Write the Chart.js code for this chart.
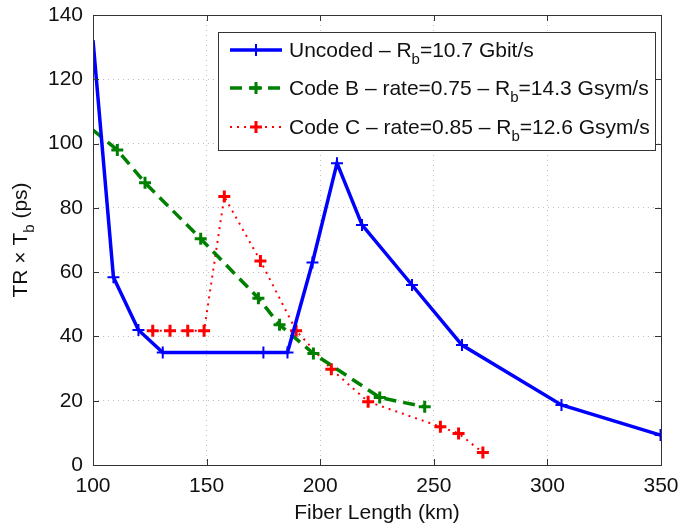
<!DOCTYPE html>
<html>
<head>
<meta charset="utf-8">
<script src="https://cdn.jsdelivr.net/npm/chart.js@4.4.0/dist/chart.umd.min.js"></script>
<style>
  html, body { margin: 0; padding: 0; background: #fff; }
  #wrap { width: 679px; height: 527px; position: relative; }
</style>
</head>
<body>
<div id="wrap"><canvas id="trChart"></canvas></div>
<script>
// fiber length (km) and TR x Tb (ps)
const uncodedX = [100, 109, 120, 130.7, 175, 185.6, 196.6, 207.4, 218.4, 240.4, 262.4, 306.2, 349.8];
const uncodedY = [132.2, 58.4, 42, 35, 35, 35, 63, 93.9, 74.7, 56, 37.3, 18.7, 9.3];

const codeBX = [100, 110.7, 122.9, 147.4, 172.8, 182.1, 197, 226.2, 246];
const codeBY = [104.2, 98, 87.8, 70.4, 51.9, 43.6, 34.7, 21, 18.1];

const codeCX = [126.3, 133.9, 141.7, 148.9, 157.8, 173.7, 189.4, 204.9, 221.1, 252.9, 260.9, 271.6];
const codeCY = [41.8, 41.8, 41.8, 41.8, 83.5, 63.5, 41.8, 29.8, 19.7, 11.9, 9.8, 3.9];

const xTicks = [100, 150, 200, 250, 300, 350];
const yTicks = [0, 20, 40, 60, 80, 100, 120, 140];

const legendHead = ['Uncoded \u2013 R', 'Code B \u2013 rate=0.75 \u2013 R', 'Code C \u2013 rate=0.85 \u2013 R'];
const legendTail = ['=10.7 Gbit/s', '=14.3 Gsym/s', '=12.6 Gsym/s'];

const FONT = "'Liberation Sans', Arial, sans-serif";

function toPoints(xs, ys) {
    return xs.map((x, i) => ({ x: x, y: ys[i] }));
}

// hide marker where the curve enters from the left axis
const edgeRadius = r => ctx => (ctx.raw && ctx.raw.x <= 100 ? 0 : r);

const matlabFrame = {
    id: 'matlabFrame',
    afterDatasetsDraw(chart) {
        const c = chart.ctx;
        const a = chart.chartArea;
        const xs = chart.scales.x, ys = chart.scales.y;
        c.save();
        // frame
        c.strokeStyle = '#333';
        c.lineWidth = 1;
        c.strokeRect(Math.round(a.left) + 0.5, Math.round(a.top) + 0.5, Math.round(a.right - a.left), Math.round(a.bottom - a.top));
        // inward ticks
        c.beginPath();
        xTicks.forEach(v => {
            const px = Math.round(xs.getPixelForValue(v)) + 0.5;
            c.moveTo(px, a.bottom); c.lineTo(px, a.bottom - 6);
            c.moveTo(px, a.top); c.lineTo(px, a.top + 6);
        });
        yTicks.forEach(v => {
            const py = Math.round(ys.getPixelForValue(v)) + 0.5;
            c.moveTo(a.left, py); c.lineTo(a.left + 6, py);
            c.moveTo(a.right, py); c.lineTo(a.right - 6, py);
        });
        c.stroke();

        // axis titles
        c.fillStyle = '#111';
        c.font = '21px ' + FONT;
        c.textAlign = 'center';
        c.textBaseline = 'middle';
        c.fillText('Fiber Length (km)', (a.left + a.right) / 2, 513);

        c.save();
        c.translate(20, (a.top + a.bottom) / 2);
        c.rotate(-Math.PI / 2);
        const p1 = 'TR \u00d7 T', p3 = ' (ps)';
        c.font = '21px ' + FONT;
        const w1 = c.measureText(p1).width;
        const w3 = c.measureText(p3).width;
        c.font = '15px ' + FONT;
        const w2 = c.measureText('b').width;
        let sx = -(w1 + w2 + w3) / 2;
        c.textAlign = 'left';
        c.textBaseline = 'alphabetic';
        c.font = '21px ' + FONT;
        c.fillText(p1, sx, 7);
        c.font = '15px ' + FONT;
        c.fillText('b', sx + w1, 14);
        c.font = '21px ' + FONT;
        c.fillText(p3, sx + w1 + w2, 7);
        c.restore();

        // legend
        const bx = 218, by = 32, bw = 437, bh = 118;
        c.fillStyle = '#fff';
        c.fillRect(bx, by, bw, bh);
        c.strokeStyle = '#333';
        c.lineWidth = 1;
        c.strokeRect(bx + 0.5, by + 0.5, bw, bh);
        const rowsY = [50, 88, 127];
        chart.data.datasets.forEach((ds, i) => {
            const y = rowsY[i];
            c.save();
            c.strokeStyle = ds.borderColor;
            c.lineWidth = ds.borderWidth;
            c.setLineDash(ds.borderDash || []);
            c.beginPath();
            c.moveTo(230, y); c.lineTo(282, y);
            c.stroke();
            c.setLineDash([]);
            c.lineWidth = ds.pointBorderWidth;
            c.beginPath();
            c.moveTo(256 - 6, y); c.lineTo(256 + 6, y);
            c.moveTo(256, y - 6); c.lineTo(256, y + 6);
            c.stroke();
            c.restore();

            c.fillStyle = '#111';
            c.textAlign = 'left';
            c.textBaseline = 'alphabetic';
            let tx = 289;
            c.font = '21px ' + FONT;
            c.fillText(legendHead[i], tx, y + 7);
            tx += c.measureText(legendHead[i]).width;
            c.font = '15px ' + FONT;
            c.fillText('b', tx, y + 14);
            tx += c.measureText('b').width;
            c.font = '21px ' + FONT;
            c.fillText(legendTail[i], tx, y + 7);
        });
        c.restore();
    }
};

const ctx = document.getElementById('trChart');

new Chart(ctx, {
    type: 'line',
    data: {
        datasets: [{
            label: 'Uncoded',
            data: toPoints(uncodedX, uncodedY),
            borderColor: '#0000ff',
            backgroundColor: '#0000ff',
            borderWidth: 3.5,
            pointStyle: 'cross',
            pointRadius: edgeRadius(6),
            pointBorderWidth: 2,
            pointBorderColor: '#0000ff',
            tension: 0
        }, {
            label: 'Code B',
            data: toPoints(codeBX, codeBY),
            borderColor: '#008000',
            backgroundColor: '#008000',
            borderWidth: 3.5,
            borderDash: [12, 7],
            pointStyle: 'cross',
            pointRadius: edgeRadius(6),
            pointBorderWidth: 3,
            pointBorderColor: '#008000',
            tension: 0
        }, {
            label: 'Code C',
            data: toPoints(codeCX, codeCY),
            borderColor: '#ff0000',
            backgroundColor: '#ff0000',
            borderWidth: 2,
            borderDash: [2, 5],
            pointStyle: 'cross',
            pointRadius: 6,
            pointBorderWidth: 3,
            pointBorderColor: '#ff0000',
            tension: 0
        }]
    },
    options: {
        responsive: true,
        maintainAspectRatio: false,
        animation: false,
        layout: { padding: { top: 15, right: 18, left: 0, bottom: 0 } },
        scales: {
            x: {
                type: 'linear',
                min: 100,
                max: 350,
                afterFit: s => { s.height = 62; s.paddingLeft = 0; s.paddingRight = 0; },
                afterBuildTicks: s => { s.ticks = xTicks.map(v => ({ value: v })); },
                grid: { color: '#c0c0c0', lineWidth: 1, drawTicks: false },
                border: { display: false, dash: [1, 4] },
                ticks: { padding: 9, color: '#111', font: { size: 21, family: FONT } }
            },
            y: {
                min: 0,
                max: 140,
                afterFit: s => { s.width = 93; s.paddingTop = 0; s.paddingBottom = 0; },
                afterBuildTicks: s => { s.ticks = yTicks.map(v => ({ value: v })); },
                grid: { color: '#c0c0c0', lineWidth: 1, drawTicks: false },
                border: { display: false, dash: [1, 4] },
                ticks: { padding: 10, color: '#111', font: { size: 21, family: FONT } }
            }
        },
        plugins: {
            legend: { display: false },
            tooltip: { enabled: false }
        }
    },
    plugins: [matlabFrame]
});
</script>
</body>
</html>
